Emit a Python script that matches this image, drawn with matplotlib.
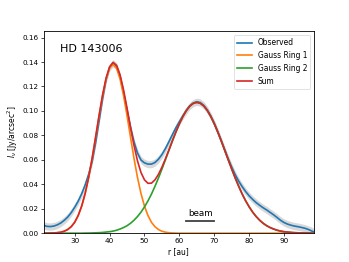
import numpy as np
import matplotlib
matplotlib.use('Agg')
import matplotlib.pyplot as plt

# radius grid [au]
r = np.arange(21, 100)

# observed radial profile [Jy/arcsec^2]
observed = [
    0.0066, 0.0056, 0.0054, 0.0058, 0.0068, 0.0083, 0.0105, 0.0132, 0.0168, 0.0212,  # 21-30
    0.0262, 0.0322, 0.0395, 0.0482, 0.0585, 0.0740, 0.0920, 0.1100, 0.1255, 0.1355,  # 31-40
    0.1390, 0.1365, 0.1280, 0.1150, 0.1005, 0.0865, 0.0745, 0.0655, 0.0598, 0.0575,  # 41-50
    0.0565, 0.0565, 0.0578, 0.0605, 0.0643, 0.0692, 0.0748, 0.0806, 0.0862, 0.0912,  # 51-60
    0.0960, 0.1005, 0.1042, 0.1065, 0.1075, 0.1068, 0.1045, 0.1008, 0.0958, 0.0898,  # 61-70
    0.0830, 0.0757, 0.0682, 0.0608, 0.0540, 0.0478, 0.0425, 0.0380, 0.0340, 0.0305,  # 71-80
    0.0276, 0.0250, 0.0228, 0.0208, 0.0190, 0.0170, 0.0150, 0.0128, 0.0105, 0.0087,  # 81-90
    0.0074, 0.0065, 0.0058, 0.0053, 0.0047, 0.0040, 0.0030, 0.0017, 0.0005,          # 91-99
]
observed_err = 0.003

ring1 = [
    0.0000, 0.0000, 0.0001, 0.0002, 0.0004, 0.0008, 0.0016, 0.0030, 0.0053, 0.0089,  # 21-30
    0.0144, 0.0221, 0.0324, 0.0455, 0.0611, 0.0784, 0.0961, 0.1126, 0.1261, 0.1349,  # 31-40
    0.1380, 0.1349, 0.1261, 0.1126, 0.0961, 0.0784, 0.0611, 0.0455, 0.0324, 0.0221,  # 41-50
    0.0144, 0.0089, 0.0053, 0.0030, 0.0016, 0.0008, 0.0004, 0.0002, 0.0001, 0.0000,  # 51-60
] + [0.0] * 39

ring2 = [0.0] * 12 + [
    0.0001, 0.0001, 0.0002, 0.0003, 0.0004, 0.0006, 0.0009, 0.0012,                  # 33-40
    0.0017, 0.0024, 0.0034, 0.0046, 0.0061, 0.0081, 0.0106, 0.0136, 0.0172, 0.0215,  # 41-50
    0.0264, 0.0320, 0.0383, 0.0451, 0.0524, 0.0600, 0.0677, 0.0754, 0.0827, 0.0895,  # 51-60
    0.0954, 0.1003, 0.1040, 0.1062, 0.1070, 0.1062, 0.1040, 0.1003, 0.0954, 0.0895,  # 61-70
    0.0827, 0.0754, 0.0677, 0.0600, 0.0524, 0.0451, 0.0383, 0.0320, 0.0264, 0.0215,  # 71-80
    0.0172, 0.0136, 0.0106, 0.0081, 0.0061, 0.0046, 0.0034, 0.0024, 0.0017, 0.0012,  # 81-90
    0.0009, 0.0006, 0.0004, 0.0003, 0.0002, 0.0001, 0.0001, 0.0000, 0.0000,          # 91-99
]

beam_span = [62, 70]

observed = np.array(observed)
ring1 = np.array(ring1)
ring2 = np.array(ring2)
total = ring1 + ring2

fig, ax = plt.subplots(figsize=(3.49, 2.62), dpi=100)
fig.subplots_adjust(left=0.125, right=0.9, bottom=0.11, top=0.88)

lw = 1.2
ax.fill_between(r, observed - observed_err, observed + observed_err, color='gray', alpha=0.3, lw=0)
ax.plot(r, observed, color='C0', lw=lw, label='Observed')
ax.plot(r, ring1, color='C1', lw=lw, label='Gauss Ring 1')
ax.plot(r, ring2, color='C2', lw=lw, label='Gauss Ring 2')
ax.plot(r, total, color='C3', lw=lw, label='Sum')

ax.plot(beam_span, [0.01, 0.01], color='0.25', lw=1.3)
ax.text(np.mean(beam_span), 0.0125, 'beam', ha='center', va='bottom', fontsize=6.3)

ax.text(0.06, 0.94, 'HD 143006', transform=ax.transAxes, ha='left', va='top', fontsize=8)

ax.set_xlim(21.1, 98.6)
ax.set_ylim(0, 0.165)
ax.set_xlabel('r [au]', fontsize=5.45, labelpad=2)
ax.set_ylabel(r'$I_\nu$ [Jy/arcsec$^2$]', fontsize=5.45, labelpad=2)
ax.tick_params(labelsize=5.2, length=2, width=0.5, pad=1.5)
for s in ax.spines.values():
    s.set_linewidth(0.6)

leg = ax.legend(loc='upper right', fontsize=5.45, handlelength=2, borderpad=0.4, labelspacing=0.5)
leg.get_frame().set_linewidth(0.5)

fig.savefig('out.png', dpi=100)
